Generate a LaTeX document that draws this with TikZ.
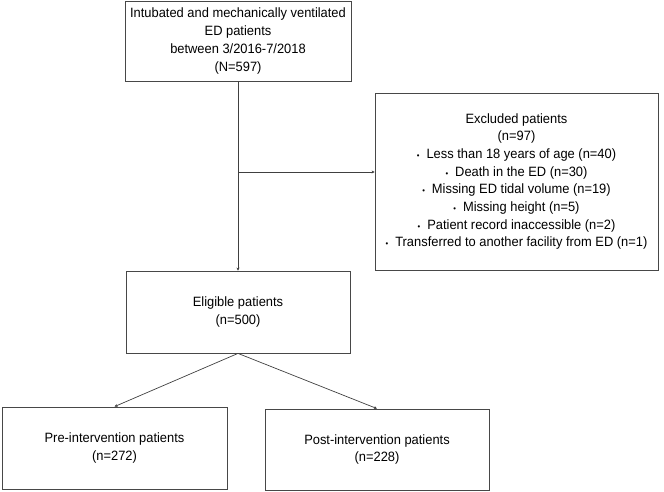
\documentclass[tikz,border=0pt]{standalone}
\usepackage{fontspec}
\setmainfont[FakeStretch=0.955]{Liberation Sans}
\usetikzlibrary{arrows.meta}
\newcommand{\bul}{{\fontsize{8}{8}\selectfont\textbullet}\hspace{7pt}}
\begin{document}
\begin{tikzpicture}[x=1pt,y=-1pt,
  box/.style={draw=black!72, line width=0.8pt, align=center, inner sep=0pt,
    font=\fontsize{13.5}{17.7}\selectfont},
  conn/.style={draw=black!75, line width=0.7pt, -{Stealth[length=3pt,width=3pt]}}]
\useasboundingbox (0,0) rectangle (664,492);
\node[box, minimum width=226pt, minimum height=80pt] (top) at (238,41)
  {Intubated and mechanically ventilated\\ED patients\\between 3/2016-7/2018\\(N=597)};
\node[box, minimum width=283pt, minimum height=177pt] (excl) at (516.5,181.5)
  {Excluded patients\\(n=97)\\\bul Less than 18 years of age (n=40)\\\bul Death in the ED (n=30)\\\bul Missing ED tidal volume (n=19)\\\bul Missing height (n=5)\\\bul Patient record inaccessible (n=2)\\\bul Transferred to another facility from ED (n=1)};
\node[box, minimum width=224pt, minimum height=82pt] (elig) at (238,312)
  {Eligible patients\\(n=500)};
\node[box, minimum width=225pt, minimum height=82pt] (pre) at (114.5,448)
  {Pre-intervention patients\\(n=272)};
\node[box, minimum width=224pt, minimum height=81pt] (post) at (377,449.5)
  {Post-intervention patients\\(n=228)};
\coordinate (j) at (238,172);
\draw[conn] (top.south) -- (elig.north);
\draw[conn] (j) -- (excl.west |- j);
\draw[conn] (elig.south) -- (pre.north);
\draw[conn] (elig.south) -- (post.north);
\end{tikzpicture}
\end{document}
